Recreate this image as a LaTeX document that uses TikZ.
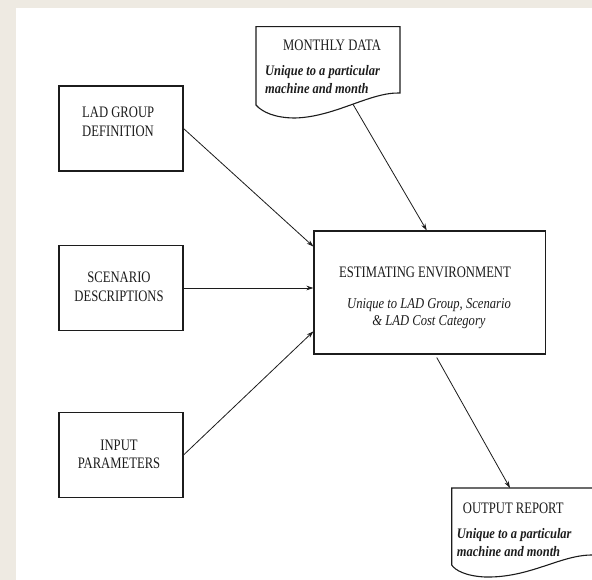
\documentclass[tikz,border=0pt]{standalone}
\usepackage{fontspec}
\setmainfont{Liberation Serif}[FakeStretch=0.84]
\newfontfamily\labfont{Liberation Serif}[FakeStretch=0.79]
\newfontfamily\docfont{Liberation Serif}[FakeStretch=0.86]
\usetikzlibrary{arrows.meta,calc}
\definecolor{bgbeige}{RGB}{238,234,226}
\definecolor{ink}{RGB}{28,28,28}
\begin{document}
\begin{tikzpicture}[x=1pt,y=-1pt,
  box/.style={draw=ink,line width=1.1pt,rectangle,inner sep=0pt},
  docline/.style={draw=ink,line width=1.1pt},
  lbl/.style={font=\labfont\fontsize{16}{18.5}\selectfont,inner sep=0pt,text=ink},
  itl/.style={font=\fontsize{15}{17.5}\selectfont\itshape,inner sep=0pt,text=ink},
  ditl/.style={font=\docfont\fontsize{14.5}{18.5}\selectfont\bfseries\itshape,inner sep=0pt,text=ink},
  conn/.style={draw=ink,line width=0.8pt,-{Stealth[length=7pt,width=4.5pt]}}]
\useasboundingbox (0,0) rectangle (592,580);
\fill[bgbeige] (0,0) rectangle (592,580);
\fill[white] (16,8) rectangle (592,580);

% boxes
\node[box,minimum width=124pt,minimum height=85pt] (lad) at (121,128.5) {};
\node[box,minimum width=124pt,minimum height=84.5pt] (scen) at (121,288) {};
\node[box,minimum width=124pt,minimum height=85pt] (inp) at (121,455) {};
\node[box,minimum width=231.5pt,minimum height=123pt] (est) at (429.75,292.5) {};

% box texts (base anchor = baseline of last line)
\node[lbl,anchor=base west,align=left] (ladt) at (82,136.5) {LAD GROUP\\DEFINITION};
\node[lbl,anchor=base,align=center] (scent) at (119,301.5) {SCENARIO\\DESCRIPTIONS};
\node[lbl,anchor=base,align=center] (inpt) at (119,468.5) {INPUT\\PARAMETERS};
\node[lbl,anchor=base] (estt) at (425,277) {ESTIMATING ENVIRONMENT};
\node[itl,anchor=base,align=center] (ests) at (429,326) {Unique to LAD Group, Scenario\\\& LAD Cost Category};

% monthly data document
\draw[docline] (400,93) .. controls (370,92) and (335,117) .. (295,118)
  .. controls (275,118) and (262,112) .. (256,105) -- (256,26.6) -- (400,26.6) -- cycle;
\node[lbl,anchor=base west] (mdt) at (283,51) {MONTHLY DATA};
\node[ditl,anchor=base west,align=left] (mds) at (265,94) {Unique to a particular\\machine and month};
\coordinate (mdb) at (353,104.3);

% output report document
\draw[docline] (592,555) .. controls (560,555) and (530,578) .. (485,577)
  .. controls (465,576) and (455,570) .. (451.7,565) -- (451.7,488) -- (592,488);
\node[lbl,anchor=base west] (ort) at (462.7,513) {OUTPUT REPORT};
\node[ditl,anchor=base west,align=left] (ors) at (456.7,556.5) {Unique to a particular\\machine and month};
\coordinate (ortop) at (510,488);

% connectors
\draw[conn] (lad.east) -- ($(est.north west)!0.13!(est.south west)$);
\draw[conn] (scen.east) -- (scen.east -| est.west);
\draw[conn] (inp.east) -- ($(est.north west)!0.813!(est.south west)$);
\draw[conn] (mdb) -- ($(est.north)+(-3,0)$);
\draw[conn] ($(est.south)+(7,3)$) -- (ortop);
\end{tikzpicture}
\end{document}
